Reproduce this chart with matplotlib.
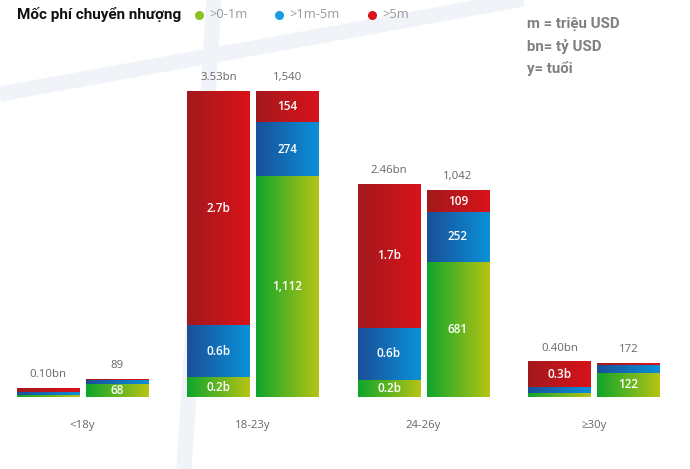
import numpy as np
import matplotlib
matplotlib.use("Agg")
import matplotlib.pyplot as plt
from matplotlib.colors import LinearSegmentedColormap
from matplotlib.lines import Line2D
from matplotlib.transforms import blended_transform_factory

plt.rcParams['font.family'] = ['Open Sans', 'DejaVu Sans']

# ---- data ----
categories = ["<18y", "18-23y", "24-26y", "≥30y"]
series = [">0-1m", ">1m-5m", ">5m"]
# transfer fees (billion USD) by fee band
fee_green = [0.025, 0.23, 0.20, 0.05]
fee_blue = [0.035, 0.60, 0.60, 0.06]
fee_red = [0.040, 2.70, 1.66, 0.29]
# number of transfers by fee band
cnt_green = [68, 1112, 681, 122]
cnt_blue = [16, 274, 252, 40]
cnt_red = [5, 154, 109, 10]
title = "Mốc phí chuyển nhượng"
notes = ["m = triệu USD", "bn= tỷ USD", "y= tuổi"]

# ---- style ----
W, H = 690, 469
fig = plt.figure(figsize=(W / 100, H / 100), dpi=100)
fig.patch.set_facecolor("white")

# faint decorative background bands
for (x0, y0, x1, y1) in [(0, 94, 540, -4), (214, 0, 184, 469)]:
    fig.add_artist(Line2D([x0 / W, x1 / W], [1 - y0 / H, 1 - y1 / H],
                          transform=fig.transFigure, color="#f0f3f8",
                          lw=11, solid_capstyle="butt", zorder=-5))

base_px = 397
ax = fig.add_axes([0, (H - base_px) / H, 1, base_px / H])
ax.patch.set_visible(False)
ax2 = ax.twinx()
ax2.patch.set_visible(False)

cmaps = [
    LinearSegmentedColormap.from_list("g", ["#0fa52c", "#b6c414"]),
    LinearSegmentedColormap.from_list("b", ["#1a4f98", "#0a91d8"]),
    LinearSegmentedColormap.from_list("r", ["#a3191d", "#d8131a"]),
]
dot_colors = ["#8cc21f", "#1a9de0", "#d8131a"]

x = np.arange(len(categories))
bw = 0.364
off = 0.2023
scale = 1.30
fee_max = max(np.sum([fee_green, fee_blue, fee_red], axis=0))
cnt_max = max(np.sum([cnt_green, cnt_blue, cnt_red], axis=0))
fee_lim = fee_max * scale
cnt_lim = cnt_max * scale
grad = np.linspace(0, 1, 256).reshape(1, -1)


def draw_stack(axis, xpos, stacks, lim, fmt, totfmt):
    bottom = np.zeros(len(xpos))
    for k, vals in enumerate(stacks):
        bars = axis.bar(xpos, vals, bw, bottom=bottom, color="none", lw=0)
        for i, p in enumerate(bars.patches):
            bx, by, w, h = p.get_x(), p.get_y(), p.get_width(), p.get_height()
            axis.imshow(grad, cmap=cmaps[k], extent=[bx, bx + w, by, by + h],
                        aspect="auto", interpolation="bilinear", zorder=2)
            if h / lim > 0.03:
                axis.text(bx + w / 2, by + h / 2, fmt(vals[i]), ha="center",
                          va="center", color="white", fontsize=8.5,
                          fontweight="semibold", zorder=3)
        bottom = bottom + np.array(vals)
    for i, t in enumerate(bottom):
        axis.annotate(totfmt(t), (xpos[i], t), xytext=(0, 10),
                      textcoords="offset points", ha="center", va="center",
                      color="#666666", fontsize=8.2)


draw_stack(ax, x - off, [fee_green, fee_blue, fee_red], fee_lim,
           lambda v: f"{v:.1f}b", lambda t: f"{t:.2f}bn")
draw_stack(ax2, x + off, [cnt_green, cnt_blue, cnt_red], cnt_lim,
           lambda v: f"{v:,.0f}", lambda t: f"{t:,.0f}")

spacing = 170.5
left_px = 82.5
ax.set_xlim(-left_px / spacing, (W - left_px) / spacing)
ax.set_ylim(0, fee_lim)
ax2.set_ylim(0, cnt_lim)
for a in (ax, ax2):
    a.set_xticks([])
    a.set_yticks([])
    for s in a.spines.values():
        s.set_visible(False)

trans = blended_transform_factory(ax.transData, ax.transAxes)
for i, c in enumerate(categories):
    ax.text(x[i], -28 / base_px, c, transform=trans, ha="center", va="center",
            color="#666666", fontsize=8.2)

# title and legend
fig.text(17 / W, 1 - 14 / H, title, ha="left", va="center", fontsize=11,
         fontweight="bold", color="#111111", family=["Roboto", "DejaVu Sans"])
leg_dots = [199, 279, 372]
for k, s in enumerate(series):
    fig.add_artist(Line2D([leg_dots[k] / W], [1 - 15 / H], marker="o",
                          markersize=5.5, color=dot_colors[k], lw=0,
                          transform=fig.transFigure))
    fig.text((leg_dots[k] + 10) / W, 1 - 15 / H, s, ha="left", va="center",
             fontsize=9.3, color="#999999")

for j, n in enumerate(notes):
    fig.text(527 / W, 1 - (24 + j * 22) / H, n, ha="left", va="center",
             fontsize=10.8, fontweight="bold", color="#808080",
             family=["Roboto", "DejaVu Sans"])

fig.savefig("out.png", dpi=100, facecolor="white")
